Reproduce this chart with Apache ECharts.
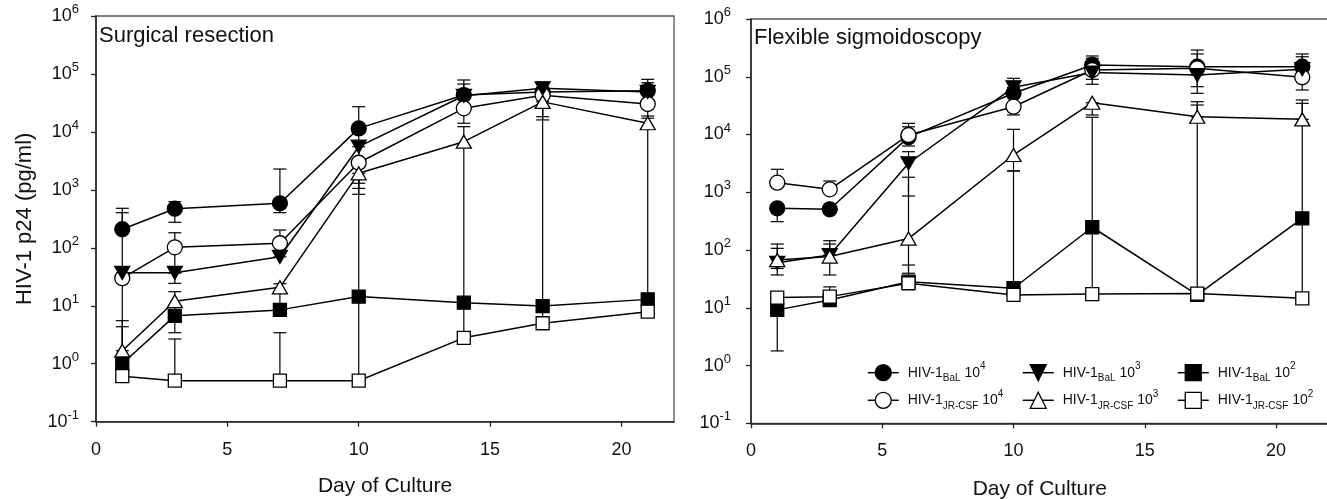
<!DOCTYPE html>
<html><head><meta charset="utf-8">
<script src="https://cdn.jsdelivr.net/npm/echarts@6/dist/echarts.min.js"></script>
<style>html,body{margin:0;padding:0;background:#fff}#c{width:1327px;height:499px}</style>
</head><body><div id="c"></div>
<script>
// ---------- DATA ----------
const daysSurgical = [1, 3, 7, 10, 14, 17, 21];
const daysFlex = [1, 3, 6, 10, 13, 17, 21];
const xTickValues = [0, 5, 10, 15, 20];

// Surgical resection (means)
const surgBaL4 = [209, 473, 587, 11500, 43300, 49000, 51400];
const surgJR4  = [30, 102, 120, 2940, 25500, 43000, 30300];
const surgBaL3 = [37, 37, 70, 5560, 42000, 56500, 49000];
const surgJR3  = [1.68, 12.0, 20.8, 1930, 6780, 33000, 14100];
const surgBaL2 = [1.0, 6.7, 8.5, 14.4, 11.3, 9.9, 12.9];
const surgJR2  = [0.61, 0.51, 0.51, 0.51, 2.8, 5.0, 7.9];
// Surgical resection error bars [low, high] (null = none)
const surgBaL4Err = [[209, 481], [276, 625], [404, 2290], [1300, 27200], [43300, 78700], [18300, 49000], [51400, 80800]];
const surgJR4Err  = [[1.0, 404], [37, 182], [70, 203], [1060, 2940], [14100, 25500], [16100, 43000], [17200, 35500]];
const surgBaL3Err = [null, [24.4, 37], null, [0.5, 5560], [42000, 67100], [56500, 71800], [49000, 70600]];
const surgJR3Err  = [[1.68, 5.53], [6.7, 17.5], [8.5, 24], [839, 1930], [2.8, 12300], [5.0, 33000], [12.9, 18800]];
const surgBaL2Err = [[1.0, 4.35], [3.43, 6.7], null, null, null, null, null];
const surgJR2Err  = [null, [0.51, 2.67], [0.51, 3.43], null, null, null, null];

// Flexible sigmoidoscopy (means)
const flexBaL4 = [528, 507, 9000, 51700, 160000, 149000, 149000];
const flexJR4  = [1465, 1125, 9800, 30300, 131000, 140000, 98000];
const flexBaL3 = [60, 82, 3180, 65700, 118000, 107000, 135000];
const flexJR3  = [67, 77, 158, 4420, 35500, 20300, 18300];
const flexBaL2 = [9.2, 13.6, 28.3, 21.8, 248, 16.7, 354];
const flexJR2  = [15, 15.6, 26.6, 16.7, 17.3, 17.6, 14.6];
// Flexible sigmoidoscopy error bars [low, high]
const flexBaL4Err = [[310, 528], null, [6330, 13600], [51700, 82300], [160000, 229000], [149000, 290000], [149000, 248000]];
const flexJR4Err  = [[1465, 2500], [1125, 1570], [9800, 15600], [21800, 30300], [90300, 209000], [67300, 248000], [59000, 98000]];
const flexBaL3Err = [[48, 107], [82, 145], [862, 5040], [65700, 94000], [74100, 118000], [51700, 107000], [135000, 222000]];
const flexJR3Err  = [[37, 127], [37, 127], [39.6, 1820], [2340, 12300], [21800, 35500], [20300, 37000], [18300, 39600]];
const flexBaL2Err = [[1.79, 15], [13.6, 23], [28.3, 55], [21.8, 2340], [17.3, 19900], [16.7, 32400], [14.6, 34700]];
const flexJR2Err  = [null, null, null, null, null, null, null];

const panelTitles = ['Surgical resection', 'Flexible sigmoidoscopy'];
const xAxisTitle = 'Day of Culture';
const yAxisTitle = 'HIV-1 p24 (pg/ml)';

// ---------- STYLE / BUILD ----------
const FONT = "'Liberation Sans', Arial, sans-serif";
const TXT = '#111';
const invTri = 'path://M0,0L20,0L10,17.3Z';
const defs = [
  {key: 'BaL4', strain: 'BaL', exp: '4', symbol: 'circle', size: 15, fill: '#000'},
  {key: 'JR4', strain: 'JR-CSF', exp: '4', symbol: 'circle', size: 15, fill: '#fff'},
  {key: 'BaL3', strain: 'BaL', exp: '3', symbol: invTri, size: [15, 13], fill: '#000'},
  {key: 'JR3', strain: 'JR-CSF', exp: '3', symbol: 'triangle', size: [15, 13], fill: '#fff'},
  {key: 'BaL2', strain: 'BaL', exp: '2', symbol: 'rect', size: 13, fill: '#000'},
  {key: 'JR2', strain: 'JR-CSF', exp: '2', symbol: 'rect', size: 13, fill: '#fff'}
];
const panels = [
  {days: daysSurgical,
   vals: {BaL4: surgBaL4, JR4: surgJR4, BaL3: surgBaL3, JR3: surgJR3, BaL2: surgBaL2, JR2: surgJR2},
   errs: {BaL4: surgBaL4Err, JR4: surgJR4Err, BaL3: surgBaL3Err, JR3: surgJR3Err, BaL2: surgBaL2Err, JR2: surgJR2Err}},
  {days: daysFlex,
   vals: {BaL4: flexBaL4, JR4: flexJR4, BaL3: flexBaL3, JR3: flexJR3, BaL2: flexBaL2, JR2: flexJR2},
   errs: {BaL4: flexBaL4Err, JR4: flexJR4Err, BaL3: flexBaL3Err, JR3: flexJR3Err, BaL2: flexBaL2Err, JR2: flexJR2Err}}
];

function errRender(params, api) {
  const x = api.value(0), lo = api.value(1), hi = api.value(2);
  const a = api.coord([x, lo]), b = api.coord([x, hi]);
  const w = 6.5;
  const st = {stroke: '#000', lineWidth: 1.2, fill: null};
  return {type: 'group', children: [
    {type: 'line', shape: {x1: a[0], y1: a[1], x2: b[0], y2: b[1]}, style: st},
    {type: 'line', shape: {x1: a[0] - w, y1: a[1], x2: a[0] + w, y2: a[1]}, style: st},
    {type: 'line', shape: {x1: b[0] - w, y1: b[1], x2: b[0] + w, y2: b[1]}, style: st}
  ]};
}

const series = [];
panels.forEach((p, pi) => {
  defs.forEach(d => {
    const errData = [];
    p.errs[d.key].forEach((e, i) => { if (e) errData.push([p.days[i], e[0], e[1]]); });
    series.push({
      type: 'custom', name: d.key + '_err', xAxisIndex: pi, yAxisIndex: pi, z: 1,
      renderItem: errRender, data: errData, encode: {x: 0, y: [1, 2]},
      silent: true, animation: false
    });
  });
  defs.forEach(d => {
    series.push({
      type: 'line', name: d.key, xAxisIndex: pi, yAxisIndex: pi, z: 3,
      data: p.vals[d.key].map((v, i) => [p.days[i], v]),
      symbol: d.symbol, symbolSize: d.size,
      itemStyle: {color: d.fill, borderColor: '#000', borderWidth: 1.3, opacity: 1},
      lineStyle: {color: '#000', width: 1.5},
      emphasis: {disabled: true}, animation: false
    });
  });
});

const grids = [
  {left: 96, top: 16, width: 578, height: 405.7},
  {left: 751, top: 19, width: 577.5, height: 404.3}
].map(g => Object.assign(g, {show: true, borderColor: '#555', borderWidth: 1.3, backgroundColor: 'transparent', containLabel: false, outerBoundsMode: 'none'}));

const axisLine = {show: true, onZero: false, lineStyle: {color: '#222', width: 1.5}};
const axisTick = {show: true, inside: false, length: 5, lineStyle: {color: '#222', width: 1.3}};

const xAxes = [0, 1].map(i => ({
  type: 'value', gridIndex: i, min: 0, max: 22, interval: 5,
  axisLine, axisTick: Object.assign({customValues: xTickValues}, axisTick),
  axisLabel: {customValues: xTickValues, fontSize: 18, color: TXT, fontFamily: FONT, margin: 19},
  splitLine: {show: false},
  name: xAxisTitle, nameLocation: 'middle', nameGap: i === 0 ? 54 : 55,
  nameTextStyle: {fontSize: 21, color: TXT, fontFamily: FONT}
}));

const yAxes = [0, 1].map(i => ({
  type: 'log', logBase: 10, gridIndex: i, min: 0.1, max: 1000000, splitNumber: 7,
  axisLine, axisTick, minorTick: {show: false}, splitLine: {show: false},
  axisLabel: {
    margin: i === 0 ? 17 : 20, fontFamily: FONT, color: TXT,
    formatter: v => '{b|10}{s|' + Math.round(Math.log10(v)) + '}',
    rich: {
      b: {fontSize: 18, lineHeight: 26, fontFamily: FONT, color: TXT},
      s: {fontSize: 13, lineHeight: 13, verticalAlign: 'top', fontFamily: FONT, color: TXT}
    }
  },
  name: i === 0 ? yAxisTitle : '', nameLocation: 'middle', nameGap: 60, nameRotate: 90,
  nameTextStyle: {fontSize: 22, color: TXT, fontFamily: FONT}
}));

const legendPos = {
  BaL4: [867, 361.7], BaL3: [1022, 361.7], BaL2: [1177, 361.7],
  JR4: [867, 389.3], JR3: [1022, 389.3], JR2: [1177, 389.3]
};
const legends = defs.map(d => ({
  data: [d.key], left: legendPos[d.key][0], top: legendPos[d.key][1], padding: 0,
  itemWidth: 31, itemHeight: 20, selectedMode: false,
  itemStyle: {color: d.fill, borderColor: '#000', borderWidth: 1.3},
  lineStyle: {color: '#000', width: 1.5},
  formatter: () => '{b|HIV-1}{sub|' + d.strain + '}{b| 10}{sup|' + d.exp + '}',
  textStyle: {
    padding: [0, 0, 0, 4],
    rich: {
      b: {fontSize: 14, lineHeight: 22, fontFamily: FONT, color: TXT},
      sub: {fontSize: 10, lineHeight: 10, verticalAlign: 'bottom', fontFamily: FONT, color: TXT},
      sup: {fontSize: 10, lineHeight: 10, verticalAlign: 'top', fontFamily: FONT, color: TXT}
    }
  }
}));

const titles = [
  {text: panelTitles[0], left: 99, top: 25},
  {text: panelTitles[1], left: 754, top: 27}
].map(t => Object.assign(t, {padding: 0, textStyle: {fontSize: 22, fontWeight: 'normal', color: TXT, fontFamily: FONT}}));

const chart = echarts.init(document.getElementById('c'), null, {renderer: 'canvas'});
chart.setOption({
  animation: false, backgroundColor: '#fff',
  title: titles, legend: legends, grid: grids, xAxis: xAxes, yAxis: yAxes, series
});
</script></body></html>
